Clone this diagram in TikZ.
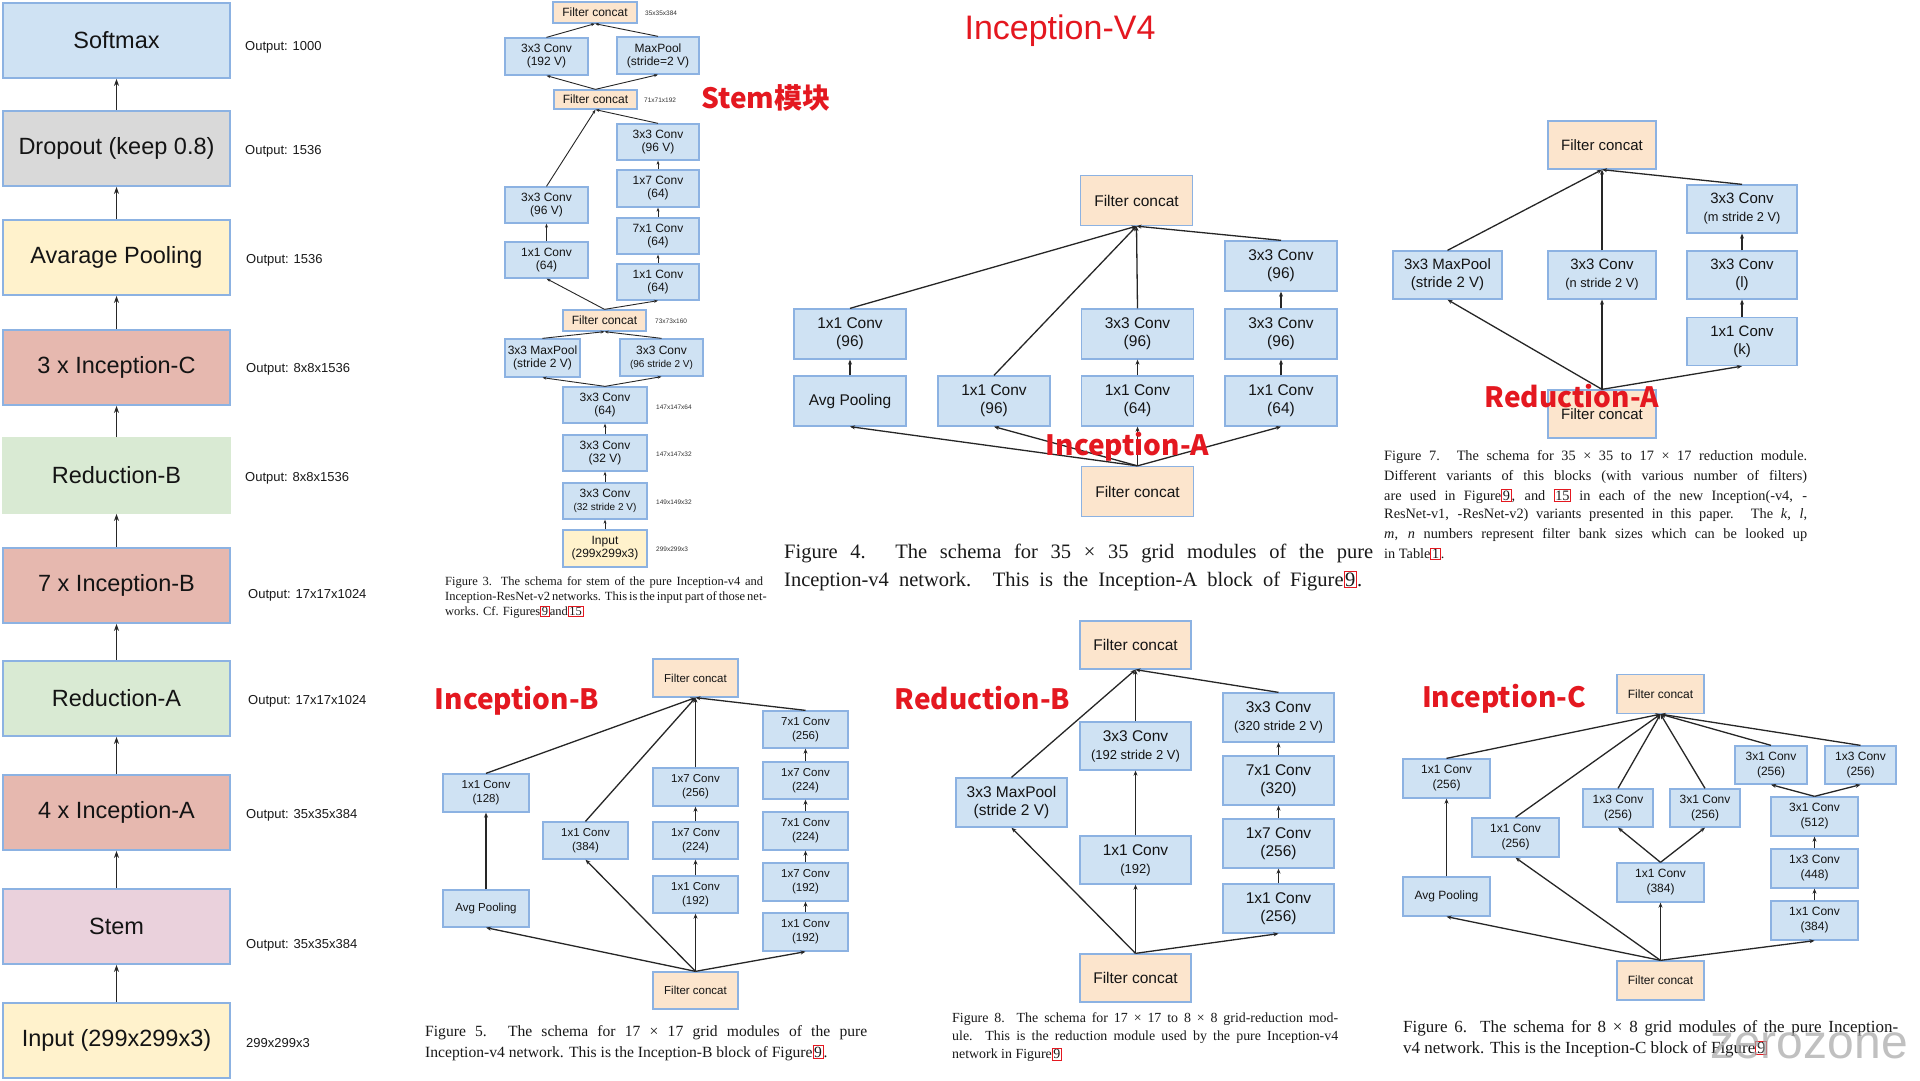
\documentclass[tikz,border=0pt]{standalone}
\usepackage{fontspec}
\setmainfont{Liberation Serif}
\setsansfont{Liberation Sans}
\newfontfamily\cjk{Noto Sans CJK SC}
\usetikzlibrary{arrows.meta}
\definecolor{cblue}{RGB}{207,226,243}
\definecolor{cbord}{RGB}{140,178,226}
\definecolor{cpeach}{RGB}{252,229,205}
\definecolor{cyellow}{RGB}{255,242,204}
\definecolor{cgray}{RGB}{217,217,217}
\definecolor{cincep}{RGB}{230,184,175}
\definecolor{cgreen}{RGB}{217,234,211}
\definecolor{cpink}{RGB}{234,209,220}
\definecolor{labred}{RGB}{228,24,32}
\newcommand\myStemF{\sffamily\fontsize{12}{13}\selectfont}
\newcommand\myIAF{\sffamily\fontsize{15.5}{18}\selectfont}
\newcommand\myRAF{\sffamily\fontsize{15}{18}\selectfont}
\newcommand\myIBF{\sffamily\fontsize{11.5}{14}\selectfont}
\newcommand\myRBF{\sffamily\fontsize{15.5}{18}\selectfont}
\newcommand\myICF{\sffamily\fontsize{12}{15}\selectfont}
\newcommand\rb[1]{{\setlength\fboxsep{0.6pt}\setlength\fboxrule{1pt}\fcolorbox{labred}{white}{#1}}}
\newcommand\jl[2]{\makebox[#1][s]{#2}}
\tikzset{
  box/.style={draw=cbord, line width=1.3, fill=cblue, inner sep=0, align=center, text=black!92},
  cat/.style={box, fill=cpeach},
  wh/.style 2 args={minimum width=#1, minimum height=#2},
  lbox/.style={draw=cbord, line width=1.8, inner sep=0, minimum width=227, minimum height=75,
    font=\sffamily\fontsize{23.5}{28}\selectfont, text=black!92},
  outlab/.style={anchor=west, inner sep=0, font=\sffamily\fontsize{13}{13}\selectfont, text=black!90},
  dimlab/.style={anchor=west, inner sep=0, font=\sffamily\fontsize{6.5}{6.5}\selectfont, text=black!80},
  redlab/.style={inner sep=0, text=labred, font=\cjk\bfseries\fontsize{28}{28}\selectfont},
  captxt/.style={anchor=west, inner sep=0, text=black!90},
  larr/.style={-{Stealth[length=7,width=5]}, line width=1.8, black!85},
  arr/.style={-{Stealth[length=5,width=4]}, line width=1.3, black!85},
  sarr/.style={-{Stealth[length=4,width=3]}, line width=0.9, black!85},
}
\begin{document}
\begin{tikzpicture}[x=1pt,y=-1pt]
\useasboundingbox (0,0) rectangle (1920,1080);
\fill[white] (0,0) rectangle (1920,1080);

% ---------------- left column ----------------
\node[lbox, fill=cblue]   (soft) at (116.5,40.5)  {Softmax};
\node[lbox, fill=cgray]   (drop) at (116.5,148.5) {Dropout (keep 0.8)};
\node[lbox, fill=cyellow] (avgp) at (116.5,257.5) {Avarage Pooling};
\node[lbox, fill=cincep]  (inc)  at (116.5,367.5) {3 x Inception-C};
\node[lbox, fill=cgreen, draw=cgreen] (redb) at (116.5,475.5) {Reduction-B};
\node[lbox, fill=cincep]  (inb)  at (116.5,585.5) {7 x Inception-B};
\node[lbox, fill=cgreen]  (reda) at (116.5,698.5) {Reduction-A};
\node[lbox, fill=cincep]  (ina)  at (116.5,812.5) {4 x Inception-A};
\node[lbox, fill=cpink]   (stem) at (116.5,926.5) {Stem};
\node[lbox, fill=cyellow] (inp)  at (116.5,1040.5) {Input (299x299x3)};
\foreach \a/\b in {inp/stem,stem/ina,ina/reda,reda/inb,inb/redb,redb/inc,inc/avgp,avgp/drop,drop/soft}
  \draw[larr] (\a.north) -- (\b.south);
\node[outlab] (o1) at (245,47)    {Output: 1000};
\node[outlab] (o2) at (245,151.5) {Output: 1536};
\node[outlab] (o3) at (246,260)   {Output: 1536};
\node[outlab] (o4) at (246,369)   {Output: 8x8x1536};
\node[outlab] (o5) at (245,478)   {Output: 8x8x1536};
\node[outlab] (o6) at (248,595)   {Output: 17x17x1024};
\node[outlab] (o7) at (248,701)   {Output: 17x17x1024};
\node[outlab] (o8) at (246,815.5) {Output: 35x35x384};
\node[outlab] (o9) at (246,945.5) {Output: 35x35x384};
\node[outlab] (o10) at (246,1043) {299x299x3};

% ---------------- Stem ----------------
\begin{scope}[every node/.append style={font=\myStemF}]
\node[cat, wh={84}{21}] (sc1) at (595,12.5) {Filter concat};
\node[box, wh={83}{37}] (s192) at (546.5,56.5) {3x3 Conv\\(192 V)};
\node[box, wh={82}{37}] (smp) at (658,55.5) {MaxPool\\(stride=2 V)};
\node[cat, wh={83}{19}] (sc2) at (595.5,99.5) {Filter concat};
\node[box, wh={82}{36}] (s96r) at (658,142) {3x3 Conv\\(96 V)};
\node[box, wh={82}{37}] (s17) at (658,188.5) {1x7 Conv\\(64)};
\node[box, wh={82}{36}] (s71) at (658,236) {7x1 Conv\\(64)};
\node[box, wh={82}{36}] (s11r) at (658,282) {1x1 Conv\\(64)};
\node[box, wh={83}{36}] (s96l) at (546.5,205) {3x3 Conv\\(96 V)};
\node[box, wh={83}{36}] (s11l) at (546.5,260) {1x1 Conv\\(64)};
\node[cat, wh={83}{21}] (sc3) at (604.5,320.5) {Filter concat};
\node[box, wh={75}{38}] (smp2) at (542.5,358) {3x3 MaxPool\\(stride 2 V)};
\node[box, wh={83}{37}] (s96s) at (661.5,357.5) {3x3 Conv\\{\fontsize{10}{12}\selectfont(96 stride 2 V)}};
\node[box, wh={84}{36}] (s64) at (605,405) {3x3 Conv\\(64)};
\node[box, wh={84}{36}] (s32v) at (605,453) {3x3 Conv\\(32 V)};
\node[box, wh={84}{36}] (s32s) at (605,501) {3x3 Conv\\{\fontsize{10}{12}\selectfont(32 stride 2 V)}};
\node[box, wh={84}{37}, fill=cyellow] (sin) at (605,548.5) {Input\\(299x299x3)};
\end{scope}
\node[dimlab] (d1) at (645,13) {35x35x384};
\node[dimlab] (d2) at (644,100) {71x71x192};
\node[dimlab] (d3) at (655,321) {73x73x160};
\node[dimlab] (d4) at (656,407) {147x147x64};
\node[dimlab] (d5) at (656,454) {147x147x32};
\node[dimlab] (d6) at (656,502) {149x149x32};
\node[dimlab] (d7) at (656,549) {299x299x3};
\foreach \a/\b in {sin/s32s,s32s/s32v,s32v/s64,s64/smp2,s64/s96s,smp2/sc3,s96s/sc3,sc3/s11l,sc3/s11r,
  s11l/s96l,s96l/sc2,s11r/s71,s71/s17,s17/s96r,s96r/sc2,sc2/s192,sc2/smp,s192/sc1,smp/sc1}
  \draw[sarr] (\a.north) -- (\b.south);
\node[redlab] (stemlab) at (766,98) {Stem模块};
\begin{scope}[every node/.append style={font=\fontsize{12.5}{15}\selectfont}]
\node[captxt] (c3a) at (445,582) {\jl{318pt}{Figure 3. The schema for stem of the pure Inception-v4 and}};
\node[captxt] (c3b) at (445,597) {\jl{318pt}{Inception-ResNet-v2 networks. This is the input part of those net-}};
\node[captxt] (c3c) at (445,612) {works. Cf. Figures\rb{9}and\rb{15}};
\end{scope}

% ---------------- title ----------------
\node[inner sep=0, text=labred, font=\sffamily\fontsize{34}{34}\selectfont] (title) at (1060,31) {Inception-V4};

% ---------------- Inception-A ----------------
\begin{scope}[every node/.append style={font=\myIAF}]
\node[cat, wh={112}{50}] (ac1) at (1136.5,200.5) {Filter concat};
\node[box, wh={112}{50}] (a33t) at (1281,266) {3x3 Conv\\(96)};
\node[box, wh={112}{50}] (a11a) at (850,334) {1x1 Conv\\(96)};
\node[box, wh={112}{50}] (a33m) at (1137.5,334) {3x3 Conv\\(96)};
\node[box, wh={112}{50}] (a33r) at (1281,334) {3x3 Conv\\(96)};
\node[box, wh={112}{50}] (aavg) at (850,401) {Avg Pooling};
\node[box, wh={112}{50}] (a11b) at (994,401) {1x1 Conv\\(96)};
\node[box, wh={112}{50}] (a11c) at (1137.5,401) {1x1 Conv\\(64)};
\node[box, wh={112}{50}] (a11d) at (1281,401) {1x1 Conv\\(64)};
\node[cat, wh={112}{50}] (ac0) at (1137.5,491.5) {Filter concat};
\end{scope}
\foreach \a/\b in {ac0/aavg,ac0/a11b,ac0/a11c,ac0/a11d,aavg/a11a,a11c/a33m,a11d/a33r,a33r/a33t,
  a11a/ac1,a11b/ac1,a33m/ac1,a33t/ac1}
  \draw[arr] (\a.north) -- (\b.south);
\node[redlab] (alab) at (1127.5,446.5) {Inception-A};
\begin{scope}[every node/.append style={font=\fontsize{20.5}{28}\selectfont}]
\node[captxt] (c4a) at (784,553) {\jl{589pt}{Figure 4. The schema for 35 × 35 grid modules of the pure}};
\node[captxt] (c4b) at (784,581) {\jl{578pt}{Inception-v4 network. This is the Inception-A block of Figure\rb{9}.}};
\end{scope}

% ---------------- Reduction-A ----------------
\begin{scope}[every node/.append style={font=\myRAF}]
\node[cat, wh={108}{48}] (rc1) at (1602,145) {Filter concat};
\node[box, wh={110}{48}] (rm) at (1742,209) {3x3 Conv\\{\fontsize{12.8}{15}\selectfont(m stride 2 V)}};
\node[box, wh={109}{48}] (rmp) at (1447.5,275) {3x3 MaxPool\\(stride 2 V)};
\node[box, wh={108}{48}] (rn) at (1602,275) {3x3 Conv\\{\fontsize{12.8}{15}\selectfont(n stride 2 V)}};
\node[box, wh={110}{48}] (rl) at (1742,275) {3x3 Conv\\(l)};
\node[box, wh={110}{48}] (rk) at (1742,341.5) {1x1 Conv\\(k)};
\node[cat, wh={108}{48}] (rc0) at (1602,414) {Filter concat};
\end{scope}
\foreach \a/\b in {rc0/rmp,rc0/rn,rc0/rk,rk/rl,rl/rm,rmp/rc1,rn/rc1,rm/rc1}
  \draw[arr] (\a.north) -- (\b.south);
\node[redlab] (ralab) at (1572,396.5) {Reduction-A};
\begin{scope}[every node/.append style={font=\fontsize{14.3}{19}\selectfont}]
\node[captxt] (c7a) at (1384,457) {\jl{423pt}{Figure 7. The schema for 35 × 35 to 17 × 17 reduction module.}};
\node[captxt] (c7b) at (1384,476.5) {\jl{423pt}{Different variants of this blocks (with various number of filters)}};
\node[captxt] (c7c) at (1384,496) {\jl{423pt}{are used in Figure\rb{9}, and \rb{15} in each of the new Inception(-v4, -}};
\node[captxt] (c7d) at (1384,515.5) {\jl{423pt}{ResNet-v1, -ResNet-v2) variants presented in this paper. The \textit{k}, \textit{l},}};
\node[captxt] (c7e) at (1384,535) {\jl{423pt}{\textit{m}, \textit{n} numbers represent filter bank sizes which can be looked up}};
\node[captxt] (c7f) at (1384,554) {in Table\rb{1}.};
\end{scope}

% ---------------- Inception-B ----------------
\begin{scope}[every node/.append style={font=\myIBF}]
\node[cat, wh={85}{38}] (bc1) at (695.5,678) {Filter concat};
\node[box, wh={85}{37}] (b71a) at (805.5,729.5) {7x1 Conv\\(256)};
\node[box, wh={86}{38}] (b11a) at (486,793) {1x1 Conv\\(128)};
\node[box, wh={85}{38}] (b17a) at (695.5,787) {1x7 Conv\\(256)};
\node[box, wh={85}{37}] (b17b) at (805.5,780.5) {1x7 Conv\\(224)};
\node[box, wh={85}{37}] (b11b) at (585.5,840.5) {1x1 Conv\\(384)};
\node[box, wh={85}{37}] (b17c) at (695.5,840.5) {1x7 Conv\\(224)};
\node[box, wh={85}{38}] (b71b) at (805.5,831) {7x1 Conv\\(224)};
\node[box, wh={85}{37}] (b11c) at (695.5,894.5) {1x1 Conv\\(192)};
\node[box, wh={85}{38}] (b17d) at (805.5,882) {1x7 Conv\\(192)};
\node[box, wh={86}{37}] (bavg) at (486,908.5) {Avg Pooling};
\node[box, wh={85}{38}] (b11d) at (805.5,932) {1x1 Conv\\(192)};
\node[cat, wh={85}{37}] (bc0) at (695.5,990.5) {Filter concat};
\end{scope}
\foreach \a/\b in {bc0/bavg,bc0/b11b,bc0/b11c,bc0/b11d,bavg/b11a,b11c/b17c,b17c/b17a,
  b11d/b17d,b17d/b71b,b71b/b17b,b17b/b71a,b11a/bc1,b11b/bc1,b17a/bc1,b71a/bc1}
  \draw[arr] (\a.north) -- (\b.south);
\node[redlab] (blab) at (517,701) {Inception-B};
\begin{scope}[every node/.append style={font=\fontsize{15.6}{20}\selectfont}]
\node[captxt] (c5a) at (425,1033) {\jl{442pt}{Figure 5. The schema for 17 × 17 grid modules of the pure}};
\node[captxt] (c5b) at (425,1053) {Inception-v4 network. This is the Inception-B block of Figure\rb{9}.};
\end{scope}

% ---------------- Reduction-B ----------------
\begin{scope}[every node/.append style={font=\myRBF}]
\node[cat, wh={111}{48}] (rbc1) at (1135.5,645) {Filter concat};
\node[box, wh={111}{49}] (rb320) at (1278.5,717.5) {3x3 Conv\\{\fontsize{13}{16}\selectfont(320 stride 2 V)}};
\node[box, wh={111}{48}] (rb192s) at (1135.5,746) {3x3 Conv\\{\fontsize{13}{16}\selectfont(192 stride 2 V)}};
\node[box, wh={111}{49}] (rbmp) at (1011.5,802.5) {3x3 MaxPool\\(stride 2 V)};
\node[box, wh={111}{49}] (rb71) at (1278.5,780.5) {7x1 Conv\\(320)};
\node[box, wh={111}{48}] (rb11a) at (1135.5,860) {1x1 Conv\\{\fontsize{13}{16}\selectfont(192)}};
\node[box, wh={111}{49}] (rb17) at (1278.5,843.5) {1x7 Conv\\(256)};
\node[box, wh={111}{49}] (rb11b) at (1278.5,908.5) {1x1 Conv\\(256)};
\node[cat, wh={111}{48}] (rbc0) at (1135.5,978) {Filter concat};
\end{scope}
\foreach \a/\b in {rbc0/rbmp,rbc0/rb11a,rbc0/rb11b,rb11a/rb192s,rb11b/rb17,rb17/rb71,rb71/rb320,
  rbmp/rbc1,rb192s/rbc1,rb320/rbc1}
  \draw[arr] (\a.north) -- (\b.south);
\node[redlab] (rblab) at (982.5,698.5) {Reduction-B};
\begin{scope}[every node/.append style={font=\fontsize{13.9}{18}\selectfont}]
\node[captxt] (c8a) at (952,1019) {\jl{386pt}{Figure 8. The schema for 17 × 17 to 8 × 8 grid-reduction mod-}};
\node[captxt] (c8b) at (952,1037) {\jl{386pt}{ule. This is the reduction module used by the pure Inception-v4}};
\node[captxt] (c8c) at (952,1055) {network in Figure\rb{9}};
\end{scope}

% ---------------- Inception-C ----------------
\begin{scope}[every node/.append style={font=\myICF}]
\node[cat, wh={87}{39}] (cc1) at (1660.5,694) {Filter concat};
\node[box, wh={87}{39}] (c11a) at (1446.5,778.5) {1x1 Conv\\(256)};
\node[box, wh={87}{39}] (cavg) at (1446.5,896.5) {Avg Pooling};
\node[box, wh={87}{39}] (c11b) at (1515.5,837.5) {1x1 Conv\\(256)};
\node[box, wh={70}{38}] (c13) at (1618,808) {1x3 Conv\\(256)};
\node[box, wh={70}{38}] (c31) at (1705,808) {3x1 Conv\\(256)};
\node[box, wh={87}{39}] (c384) at (1660.5,882.5) {1x1 Conv\\(384)};
\node[box, wh={72}{38}] (c31t) at (1771,765) {3x1 Conv\\(256)};
\node[box, wh={71}{38}] (c13t) at (1860.5,765) {1x3 Conv\\(256)};
\node[box, wh={87}{39}] (c512) at (1814.5,816.5) {3x1 Conv\\(512)};
\node[box, wh={87}{39}] (c448) at (1814.5,868.5) {1x3 Conv\\(448)};
\node[box, wh={87}{39}] (c384r) at (1814.5,920.5) {1x1 Conv\\(384)};
\node[cat, wh={87}{39}] (cc0) at (1660.5,980.5) {Filter concat};
\end{scope}
\foreach \a/\b in {cc0/cavg,cc0/c11b,cc0/c384,cc0/c384r,cavg/c11a,c384/c13,c384/c31,
  c384r/c448,c448/c512,c512/c31t,c512/c13t,c11a/cc1,c11b/cc1,c13/cc1,c31/cc1,c31t/cc1,c13t/cc1}
  \draw[arr] (\a.north) -- (\b.south);
\node[redlab] (clab) at (1504,699) {Inception-C};
\begin{scope}[every node/.append style={font=\fontsize{17}{21}\selectfont}]
\node[captxt] (c6a) at (1403,1028) {\jl{495pt}{Figure 6. The schema for 8 × 8 grid modules of the pure Inception-}};
\node[captxt] (c6b) at (1403,1049) {v4 network. This is the Inception-C block of Figure\rb{9}};
\end{scope}
\node[inner sep=0, text=gray!70, opacity=0.7, font=\sffamily\fontsize{48}{48}\selectfont] (wm) at (1809,1046) {zerozone};
\end{tikzpicture}
\end{document}
